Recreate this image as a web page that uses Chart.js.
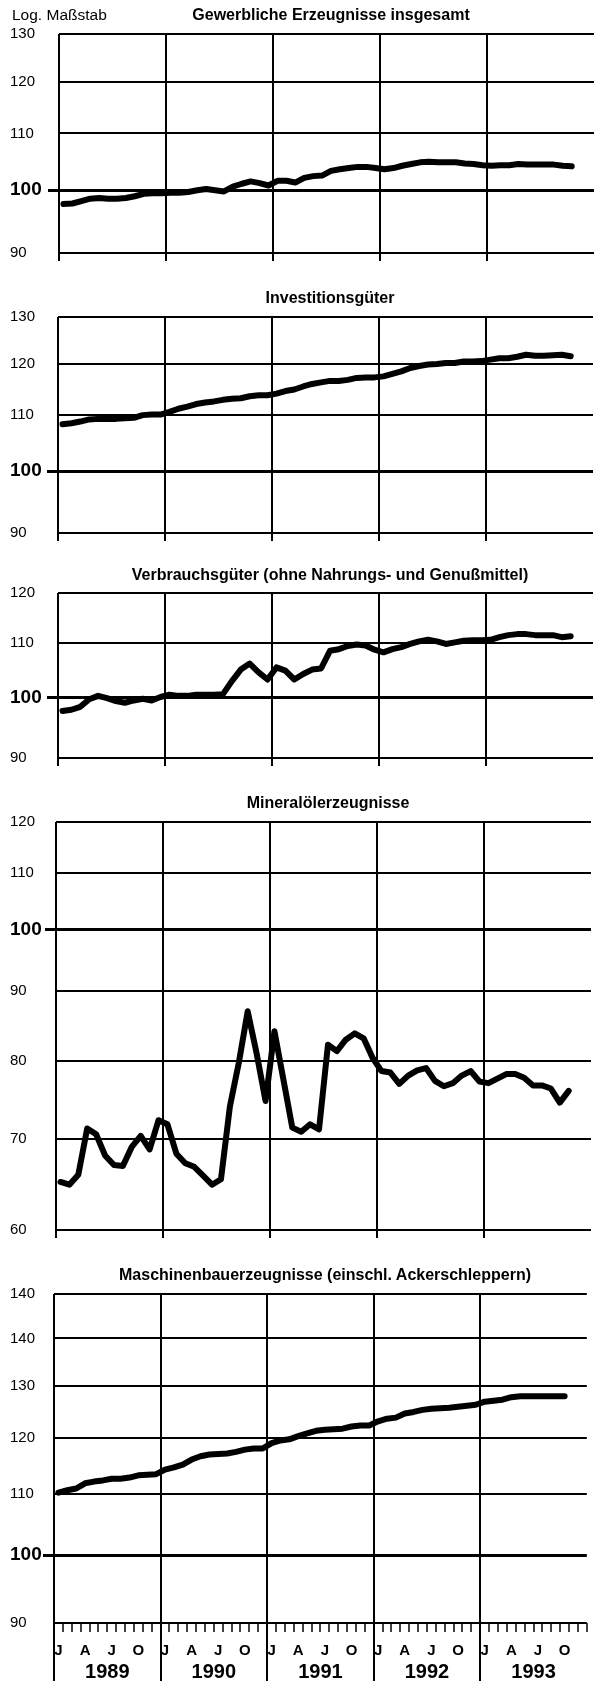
<!DOCTYPE html>
<html lang="de">
<head>
<meta charset="utf-8">
<title>Produktion nach Gütergruppen 1989–1993</title>
<script src="https://cdn.jsdelivr.net/npm/chart.js@4.4.1/dist/chart.umd.min.js"></script>
<style>
  html, body { margin: 0; padding: 0; background: #fff; }
  body { position: relative; width: 594px; height: 1684px; overflow: hidden;
         font-family: "Liberation Sans", Arial, Helvetica, sans-serif; color: #000; }
  canvas { position: absolute; left: 0; }
  .titel { position: absolute; width: 500px; font-weight: bold; font-size: 16px;
           line-height: 18px; text-align: center; white-space: nowrap; }
  #massstab { position: absolute; left: 12px; top: 6px; font-size: 15.5px; line-height: 18px; }
</style>
</head>
<body>
<canvas id="c1" width="594" height="243" style="top:22px"></canvas>
<canvas id="c2" width="594" height="240" style="top:305px"></canvas>
<canvas id="c3" width="594" height="189" style="top:581px"></canvas>
<canvas id="c4" width="594" height="432" style="top:810px"></canvas>
<canvas id="c5" width="594" height="440" style="top:1282px"></canvas>

<div id="massstab">Log. Maßstab</div>
<div class="titel" style="left:81px;top:6px">Gewerbliche Erzeugnisse insgesamt</div>
<div class="titel" style="left:80px;top:289px">Investitionsgüter</div>
<div class="titel" style="left:80px;top:566px">Verbrauchsgüter (ohne Nahrungs- und Genußmittel)</div>
<div class="titel" style="left:78px;top:794px">Mineralölerzeugnisse</div>
<div class="titel" style="left:75px;top:1266px">Maschinenbauerzeugnisse (einschl. Ackerschleppern)</div>

<script>
// Achsenbeschriftung
const monate = ['J', 'F', 'M', 'A', 'M', 'J', 'J', 'A', 'S', 'O', 'N', 'D'];
const jahre = ['1989', '1990', '1991', '1992', '1993'];

// Monatswerte Jan 1989 bis Okt 1993 (log. Maßstab)
const gewerblich = [97.7, 97.8, 98.2, 98.6, 98.7, 98.6, 98.6, 98.7, 99.0, 99.4, 99.5, 99.5,
  99.6, 99.6, 99.7, 100.0, 100.2, 100.0, 99.8, 100.6, 101.1, 101.5, 101.2, 100.8,
  101.6, 101.6, 101.3, 102.1, 102.4, 102.5, 103.3, 103.6, 103.8, 104.0, 104.0, 103.8,
  103.6, 103.8, 104.2, 104.5, 104.8, 104.9, 104.8, 104.8, 104.8, 104.6, 104.5, 104.3,
  104.2, 104.3, 104.3, 104.5, 104.4, 104.4, 104.4, 104.4, 104.2, 104.1];

const investition = [108.3, 108.5, 108.8, 109.2, 109.3, 109.3, 109.3, 109.4, 109.5, 110.0, 110.1, 110.1,
  110.6, 111.2, 111.6, 112.1, 112.4, 112.6, 112.9, 113.1, 113.2, 113.6, 113.8, 113.8,
  114.1, 114.6, 114.9, 115.5, 116.0, 116.3, 116.6, 116.6, 116.8, 117.2, 117.3, 117.3,
  117.5, 118.0, 118.5, 119.2, 119.6, 119.9, 120.0, 120.2, 120.2, 120.5, 120.5, 120.6,
  120.9, 121.2, 121.2, 121.5, 121.9, 121.7, 121.7, 121.8, 121.9, 121.6];

const verbrauch = [97.7, 97.9, 98.4, 99.7, 100.3, 99.9, 99.4, 99.1, 99.5, 99.8, 99.5, 100.1,
  100.5, 100.3, 100.3, 100.5, 100.5, 100.5, 100.6, 102.9, 105.0, 106.1, 104.5, 103.2,
  105.4, 104.8, 103.2, 104.2, 105.0, 105.2, 108.5, 108.8, 109.4, 109.7, 109.5, 108.7,
  108.2, 108.8, 109.2, 109.8, 110.3, 110.6, 110.3, 109.8, 110.1, 110.4, 110.5, 110.5,
  110.6, 111.1, 111.5, 111.7, 111.7, 111.5, 111.5, 111.5, 111.1, 111.3];

const mineraloel = [65.1, 64.8, 65.9, 71.3, 70.6, 68.1, 67.0, 66.9, 69.1, 70.4, 68.8, 72.3,
  71.8, 68.3, 67.2, 66.8, 65.8, 64.8, 65.4, 74.0, 79.7, 87.0, 81.0, 74.7,
  84.1, 77.5, 71.4, 70.9, 71.8, 71.2, 82.2, 81.3, 82.9, 83.8, 83.1, 80.4,
  78.6, 78.4, 76.9, 78.0, 78.7, 79.0, 77.3, 76.6, 77.0, 78.0, 78.6, 77.2,
  77.0, 77.6, 78.2, 78.2, 77.7, 76.7, 76.7, 76.3, 74.5, 76.0];

const maschinen = [110.2, 110.6, 110.9, 111.8, 112.1, 112.3, 112.6, 112.6, 112.8, 113.2, 113.3, 113.4,
  114.2, 114.6, 115.1, 116.0, 116.6, 116.9, 117.0, 117.1, 117.4, 117.8, 118.0, 118.0,
  119.0, 119.5, 119.7, 120.3, 120.8, 121.3, 121.5, 121.6, 121.7, 122.1, 122.3, 122.3,
  123.1, 123.6, 123.8, 124.6, 124.9, 125.3, 125.5, 125.6, 125.7, 125.9, 126.1, 126.3,
  126.9, 127.1, 127.3, 127.8, 128.0, 128.0, 128.0, 128.0, 128.0, 128.0];

// Skalen (Werte und Beschriftung, wie im Original)
const ticks90bis130 = [90, 100, 110, 120, 130];
const labels90bis130 = ['90', '100', '110', '120', '130'];
const ticks90bis120 = [90, 100, 110, 120];
const labels90bis120 = ['90', '100', '110', '120'];
const ticks60bis120 = [60, 70, 80, 90, 100, 110, 120];
const labels60bis120 = ['60', '70', '80', '90', '100', '110', '120'];
const ticks90bis150 = [90, 100, 110, 120, 130, 140, 150];
const labels90bis150 = ['90', '100', '110', '120', '130', '140', '140'];

// eine Kategorie pro Monat, 5 Jahre
const monatsLabels = [];
jahre.forEach(() => monate.forEach(m => monatsLabels.push(m)));

Chart.defaults.font.family = '"Liberation Sans", Arial, Helvetica, sans-serif';
Chart.defaults.color = '#000';

const schwarz = '#000';
const leer = 'rgba(0,0,0,0)';
const istJahresgrenze = (c) => c.index % 12 === 0;

function makePanel(id, links, werte, yTicks, yLabels, mitZeitachse) {
    const scales = {
        y: {
            type: 'logarithmic',
            min: yTicks[0],
            max: yTicks[yTicks.length - 1],
            afterBuildTicks: (scale) => { scale.ticks = yTicks.map(v => ({ value: v })); },
            afterFit: (scale) => { scale.width = links - 10; },
            grid: {
                color: schwarz,
                lineWidth: (c) => c.tick && c.tick.value === 100 ? 3 : 2,
                tickLength: 11,
                tickWidth: 3,
                tickColor: (c) => c.tick && c.tick.value === 100 ? schwarz : leer
            },
            border: { display: false },
            ticks: {
                crossAlign: 'far',
                autoSkip: false,
                color: schwarz,
                font: (c) => c.tick && c.tick.value === 100
                    ? { size: 19, weight: 'bold' }
                    : { size: 15 },
                callback: (v) => {
                    const i = yTicks.indexOf(v);
                    return i >= 0 ? yLabels[i] : '';
                }
            }
        },
        x: {
            type: 'category',
            labels: monatsLabels,
            offset: true,
            grid: {
                offset: true,
                color: (c) => istJahresgrenze(c) ? schwarz : leer,
                lineWidth: 2,
                tickLength: mitZeitachse ? 58 : 8,
                tickColor: mitZeitachse ? schwarz : (c) => istJahresgrenze(c) ? schwarz : leer,
                tickWidth: (c) => istJahresgrenze(c) ? 2 : 1.5,
                tickBorderDash: (c) => istJahresgrenze(c) || !mitZeitachse ? [] : [9, 100]
            },
            border: { display: false },
            ticks: {
                display: mitZeitachse,
                autoSkip: false,
                maxRotation: 0,
                // gespiegelt: Buchstaben zwischen den langen Jahresstrichen, ohne Beschnitt
                mirror: true,
                padding: -29,
                color: schwarz,
                font: { size: 15, weight: 'bold', lineHeight: 0.1 },
                callback: (v, i) => i % 3 === 0 ? monate[i % 12] : ''
            }
        }
    };

    // Jahreszahlen unter den Monatsbuchstaben
    if (mitZeitachse) {
        scales.xJahr = {
            type: 'category',
            position: 'bottom',
            weight: 1,
            labels: jahre,
            offset: true,
            grid: { display: false, drawTicks: false },
            border: { display: false },
            ticks: {
                autoSkip: false,
                maxRotation: 0,
                padding: 37.5,
                color: schwarz,
                font: { size: 20, weight: 'bold' }
            }
        };
    }

    new Chart(document.getElementById(id), {
        type: 'line',
        data: {
            labels: monatsLabels,
            datasets: [{
                data: werte,
                borderColor: schwarz,
                borderWidth: 6,
                borderJoinStyle: 'round',
                borderCapStyle: 'round',
                pointRadius: 0,
                tension: 0,
                fill: false
            }]
        },
        options: {
            responsive: false,
            animation: false,
            devicePixelRatio: 1,
            layout: {
                padding: { left: 10, right: 594 - (links + 535), top: 12, bottom: mitZeitachse ? 0 : 4 }
            },
            plugins: {
                legend: { display: false },
                tooltip: { enabled: false }
            },
            scales: scales
        }
    });
}

makePanel('c1', 59, gewerblich, ticks90bis130, labels90bis130, false);
makePanel('c2', 58, investition, ticks90bis130, labels90bis130, false);
makePanel('c3', 58, verbrauch, ticks90bis120, labels90bis120, false);
makePanel('c4', 56, mineraloel, ticks60bis120, labels60bis120, false);
makePanel('c5', 54, maschinen, ticks90bis150, labels90bis150, true);
</script>
</body>
</html>
